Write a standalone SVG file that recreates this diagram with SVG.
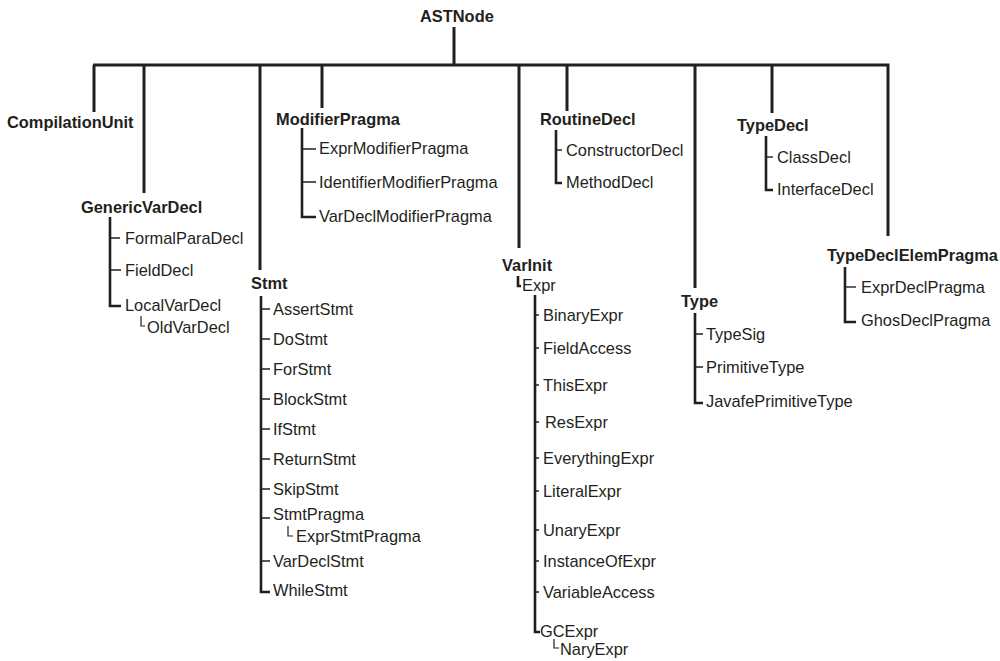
<svg xmlns="http://www.w3.org/2000/svg" width="1000" height="661" viewBox="0 0 1000 661">
<style>
text{font-family:"Liberation Sans",Arial,Helvetica,sans-serif;font-size:16.4px;fill:#231f20}
.b{font-weight:bold}
.thick{stroke:#231f20;stroke-width:3;fill:none}
.mid{stroke:#231f20;stroke-width:2.6;fill:none}
.tick{stroke:#231f20;stroke-width:1.4;fill:none}
.thin{stroke:#231f20;stroke-width:1.2;fill:none}
</style>
<rect width="1000" height="661" fill="#ffffff"/>
<g id="connectors">
  <path class="thick" d="M454 27V65M93 65H889.5M94 65V112M144 65V193M260 65V270M322 65V108M519 65V248M567 65V111M695 65V288M772 65V113M888 65V236"/>
  <!-- ModifierPragma spine -->
  <path class="mid" d="M302 128V217H316"/>
  <path class="tick" d="M302 149H316M302 182H316"/>
  <!-- GenericVarDecl spine -->
  <path class="mid" d="M110 217V306H121"/>
  <path class="tick" d="M110 238H120M110 270H121"/>
  <path class="thin" d="M141 316V326H145"/>
  <!-- Stmt spine -->
  <path class="mid" d="M261 296V592H270"/>
  <path class="tick" d="M261 309H270M261 339H270M261 369H270M261 399H270M261 429H270M261 459H270M261 489H270M261 518H270M261 561H270"/>
  <path class="thin" d="M288 526V536H293"/>
  <!-- RoutineDecl -->
  <path class="mid" d="M556 130V183H562"/>
  <path class="tick" d="M556 150H562"/>
  <!-- TypeDecl -->
  <path class="mid" d="M766 136V190H773"/>
  <path class="tick" d="M766 157H773"/>
  <!-- VarInit / Expr -->
  <path class="mid" d="M518 276V286H521"/>
  <path class="mid" d="M535 295V632H540"/>
  <path class="tick" d="M535 315H539M535 348H539M535 385H539M535 422H539M535 458H539M535 491H539M535 530H539M535 561H539M535 592H539"/>
  <path class="thin" d="M554 639V648H559"/>
  <!-- Type -->
  <path class="mid" d="M695 313V403H703"/>
  <path class="tick" d="M695 334H703M695 367H703"/>
  <!-- TypeDeclElemPragma -->
  <path class="mid" d="M845 267V322H856"/>
  <path class="tick" d="M845 287H856"/>
</g>
<g id="ASTNode"><text class="b" x="420" y="22">ASTNode</text></g>
<g id="CompilationUnit"><text class="b" x="7" y="128">CompilationUnit</text></g>
<g id="GenericVarDecl">
  <text class="b" x="81" y="213">GenericVarDecl</text>
  <text x="125" y="244">FormalParaDecl</text>
  <text x="125" y="276">FieldDecl</text>
  <text x="125" y="311">LocalVarDecl</text>
  <text x="147" y="333">OldVarDecl</text>
</g>
<g id="Stmt">
  <text class="b" x="251" y="289">Stmt</text>
  <text x="273" y="315">AssertStmt</text>
  <text x="273" y="345">DoStmt</text>
  <text x="273" y="375">ForStmt</text>
  <text x="273" y="405">BlockStmt</text>
  <text x="273" y="435">IfStmt</text>
  <text x="273" y="465">ReturnStmt</text>
  <text x="273" y="495">SkipStmt</text>
  <text x="273" y="520">StmtPragma</text>
  <text x="296" y="542">ExprStmtPragma</text>
  <text x="273" y="567">VarDeclStmt</text>
  <text x="273" y="596">WhileStmt</text>
</g>
<g id="ModifierPragma">
  <text class="b" x="276" y="125">ModifierPragma</text>
  <text x="319" y="154">ExprModifierPragma</text>
  <text x="319" y="188">IdentifierModifierPragma</text>
  <text x="319" y="222">VarDeclModifierPragma</text>
</g>
<g id="VarInit">
  <text class="b" x="502" y="271">VarInit</text>
  <text x="522" y="291">Expr</text>
  <text x="543" y="321">BinaryExpr</text>
  <text x="543" y="354">FieldAccess</text>
  <text x="543" y="391">ThisExpr</text>
  <text x="545" y="428">ResExpr</text>
  <text x="543" y="464">EverythingExpr</text>
  <text x="543" y="497">LiteralExpr</text>
  <text x="543" y="536">UnaryExpr</text>
  <text x="543" y="567">InstanceOfExpr</text>
  <text x="543" y="598">VariableAccess</text>
  <text x="540" y="637">GCExpr</text>
  <text x="560" y="655">NaryExpr</text>
</g>
<g id="RoutineDecl">
  <text class="b" x="540" y="125">RoutineDecl</text>
  <text x="566" y="156">ConstructorDecl</text>
  <text x="566" y="188">MethodDecl</text>
</g>
<g id="Type">
  <text class="b" x="681" y="307">Type</text>
  <text x="706" y="340">TypeSig</text>
  <text x="706" y="373">PrimitiveType</text>
  <text x="706" y="407">JavafePrimitiveType</text>
</g>
<g id="TypeDecl">
  <text class="b" x="737" y="131">TypeDecl</text>
  <text x="777" y="163">ClassDecl</text>
  <text x="777" y="195">InterfaceDecl</text>
</g>
<g id="TypeDeclElemPragma">
  <text class="b" x="827" y="261">TypeDeclElemPragma</text>
  <text x="861" y="293">ExprDeclPragma</text>
  <text x="861" y="326">GhosDeclPragma</text>
</g>
</svg>
